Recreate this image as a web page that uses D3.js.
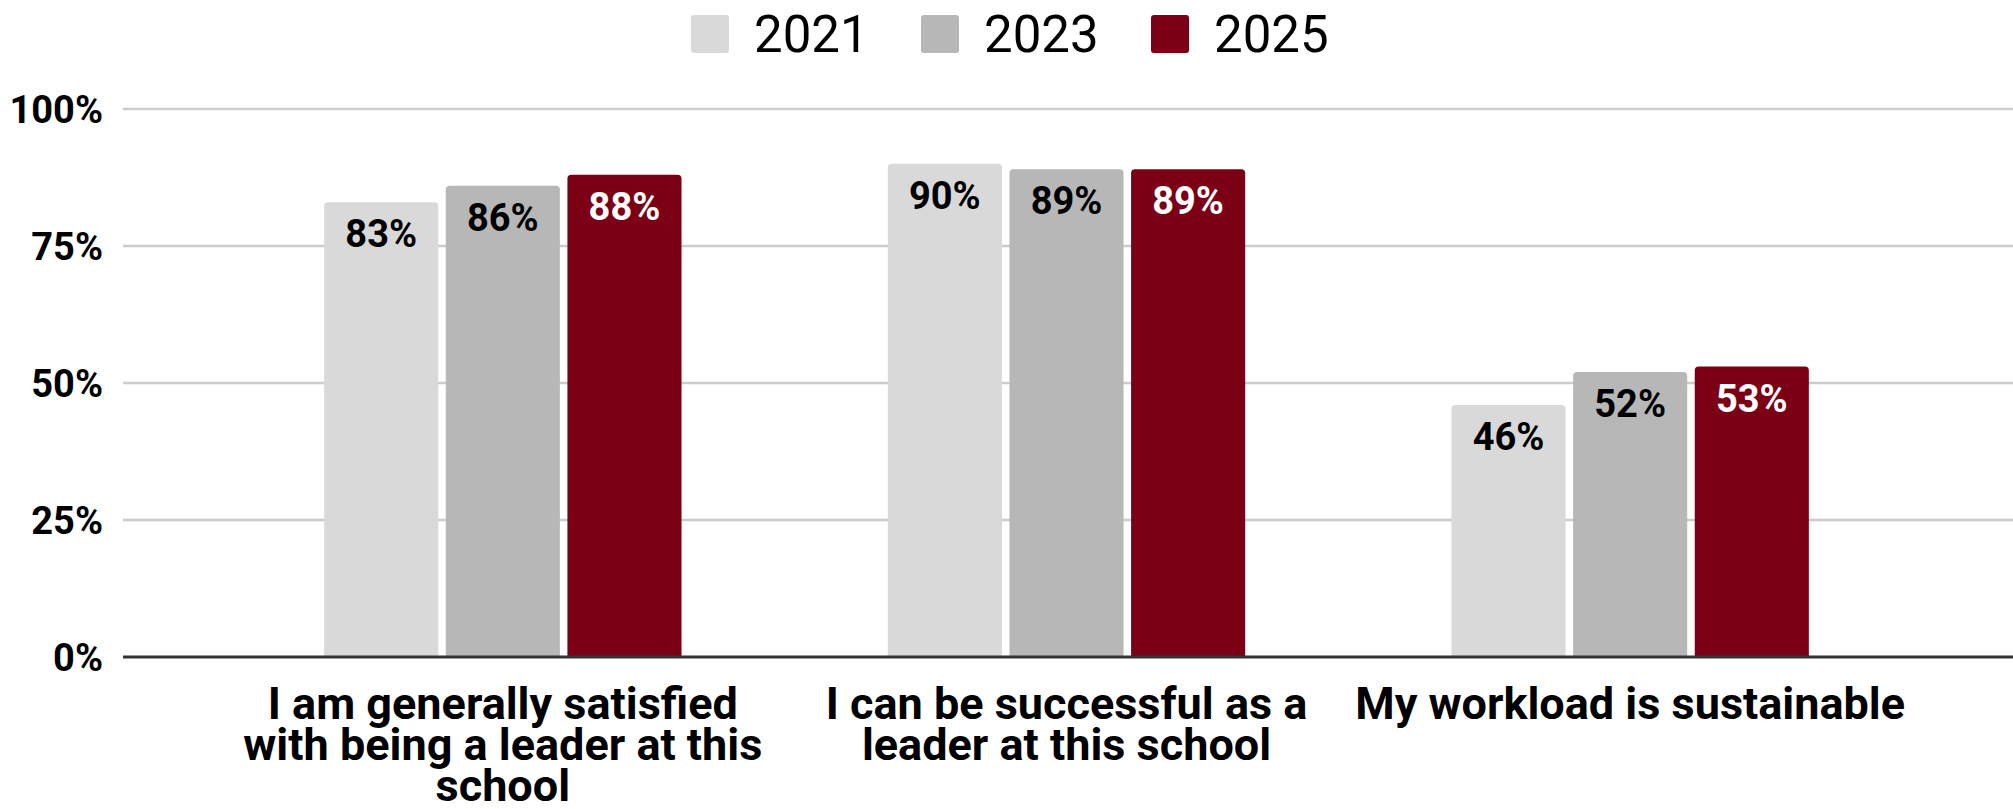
<!DOCTYPE html>
<html>
<head>
<meta charset="utf-8">
<script src="https://cdn.jsdelivr.net/npm/d3@7"></script>
<style>
  html, body { margin: 0; padding: 0; background: #ffffff; }
  svg { display: block; font-family: Roboto, "Noto Sans", sans-serif; }
</style>
</head>
<body>
<svg id="chart" width="2013" height="809"></svg>
<script>
// Survey items shown along the x axis (wrapped into display lines)
const categories = [
  "I am generally satisfied with being a leader at this school",
  "I can be successful as a leader at this school",
  "My workload is sustainable"
];
const categoryLines = [
  ["I am generally satisfied", "with being a leader at this", "school"],
  ["I can be successful as a", "leader at this school"],
  ["My workload is sustainable"]
];

// Survey years and their share of agreement (%)
const years = ["2021", "2023", "2025"];
const values2021 = [83, 90, 46];
const values2023 = [86, 89, 52];
const values2025 = [88, 89, 53];
const seriesValues = [values2021, values2023, values2025];

const yTicks = [0, 25, 50, 75, 100];
const tickLabels = ["0%", "25%", "50%", "75%", "100%"];

const colors = ["#d9d9d9", "#b7b7b7", "#7b0016"];
const labelColors = ["#000000", "#000000", "#ffffff"];

const svg = d3.select("#chart");

const plot = { left: 123, right: 2013, top: 109, bottom: 657 };

const y = d3.scaleLinear().domain([0, 100]).range([plot.bottom, plot.top]);

const x0 = d3.scaleBand()
  .domain(categories)
  .range([221, 1912])
  .paddingInner(0.366)
  .paddingOuter(0.183);

const x1 = d3.scaleBand()
  .domain(years)
  .range([0, x0.bandwidth()])
  .paddingInner(0.062)
  .paddingOuter(0);

// Horizontal gridlines
svg.append("g")
  .selectAll("line")
  .data(yTicks.filter(t => t > 0))
  .join("line")
  .attr("x1", plot.left)
  .attr("x2", plot.right)
  .attr("y1", d => y(d))
  .attr("y2", d => y(d))
  .attr("stroke", "#cccccc")
  .attr("stroke-width", 2.5);

// Y axis tick labels
const yAxis = d3.axisLeft(y)
  .tickValues(yTicks)
  .tickSize(0)
  .tickPadding(0)
  .tickFormat((d, i) => tickLabels[i]);

svg.append("g")
  .attr("transform", "translate(103,0)")
  .call(yAxis)
  .call(g => g.select(".domain").remove())
  .call(g => g.selectAll("text")
    .attr("font-family", "Roboto, sans-serif")
    .attr("font-size", 38)
    .attr("font-weight", 700)
    .attr("fill", "#000000")
    .attr("dy", "0.36em"));

// Rounded-top bar path
function barPath(x, yTop, w, h, r) {
  r = Math.min(r, h, w / 2);
  return `M${x},${yTop + h}V${yTop + r}Q${x},${yTop} ${x + r},${yTop}` +
         `H${x + w - r}Q${x + w},${yTop} ${x + w},${yTop + r}V${yTop + h}Z`;
}

const groups = svg.append("g")
  .selectAll("g")
  .data(categories)
  .join("g")
  .attr("transform", d => `translate(${x0(d)},0)`);

const barData = (c, ci) => years.map((yr, si) => ({ year: yr, si, value: seriesValues[si][ci] }));

groups.selectAll("path")
  .data((c, ci) => barData(c, ci))
  .join("path")
  .attr("d", d => barPath(x1(d.year), y(d.value), x1.bandwidth(), y(0) - y(d.value), 4))
  .attr("fill", d => colors[d.si]);

groups.selectAll("text.value")
  .data((c, ci) => barData(c, ci))
  .join("text")
  .attr("class", "value")
  .attr("x", d => x1(d.year) + x1.bandwidth() / 2)
  .attr("y", d => y(d.value) + 45)
  .attr("text-anchor", "middle")
  .attr("font-size", 38)
  .attr("font-weight", 700)
  .attr("fill", d => labelColors[d.si])
  .text(d => d.value + "%");

// Baseline axis
svg.append("line")
  .attr("x1", plot.left)
  .attr("x2", plot.right)
  .attr("y1", y(0))
  .attr("y2", y(0))
  .attr("stroke", "#333333")
  .attr("stroke-width", 3);

// Category labels
const catG = svg.append("g")
  .selectAll("text")
  .data(categories)
  .join("text")
  .attr("text-anchor", "middle")
  .attr("font-size", 45)
  .attr("font-weight", 700)
  .attr("fill", "#000000")
  .attr("x", d => x0(d) + x0.bandwidth() / 2)
  .attr("y", 719);

catG.selectAll("tspan")
  .data((d, i) => categoryLines[i])
  .join("tspan")
  .attr("x", function () { return d3.select(this.parentNode).attr("x"); })
  .attr("dy", (d, i) => i === 0 ? 0 : 41)
  .text(d => d);

// Legend
const legendX = [691, 921, 1151];
const legend = svg.append("g")
  .selectAll("g")
  .data(years)
  .join("g")
  .attr("transform", (d, i) => `translate(${legendX[i]},15)`);

legend.append("rect")
  .attr("width", 38)
  .attr("height", 38)
  .attr("rx", 3)
  .attr("fill", (d, i) => colors[i]);

legend.append("text")
  .attr("x", 63)
  .attr("y", 37)
  .attr("font-size", 51)
  .attr("fill", "#000000")
  .text(d => d);
</script>
</body>
</html>
